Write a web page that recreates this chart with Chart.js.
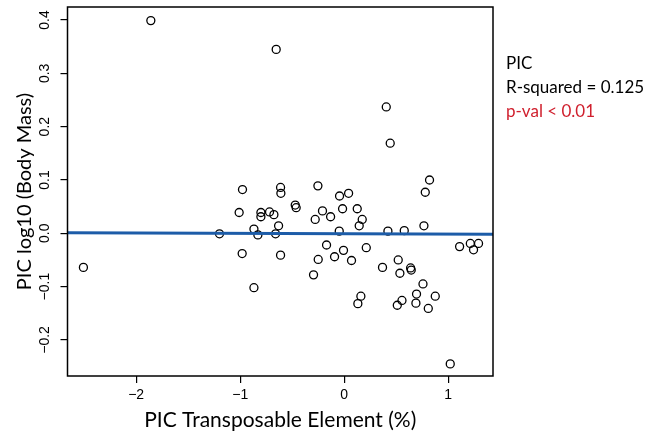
<!DOCTYPE html>
<html>
<head>
<meta charset="utf-8">
<script src="https://cdn.jsdelivr.net/npm/chart.js@4/dist/chart.umd.min.js"></script>
<style>
  html, body { margin: 0; padding: 0; background: #fff; }
  canvas { display: block; }
</style>
</head>
<body>
<canvas id="pic-chart" width="660" height="433"></canvas>
<script>
// PIC values
var picTE = [-1.859, -0.654, 0.404, 0.442, 0.820, -0.978, -0.612, -0.609, -0.253, -0.045,
  0.042, 0.779, -1.010, -0.801, -0.801, -0.718, -0.676, -0.471, -0.462, -0.209,
  -0.279, -0.131, -0.016, 0.125, 0.173, 0.144, -0.631, -0.868, -0.830, -0.660,
  -1.199, -0.048, 0.420, 0.577, 0.766, -0.981, -0.612, -0.170, -0.007, 0.212,
  -0.250, -0.093, 0.070, -0.295, -0.868, 0.368, 0.519, 0.535, 0.638, 0.644,
  0.757, 0.695, 0.875, 0.160, 0.131, 0.555, 0.510, 0.689, 0.808, 1.109,
  1.212, 1.291, 1.243, 1.019, -2.507];
var picMass = [0.399, 0.345, 0.237, 0.169, 0.100, 0.082, 0.086, 0.075, 0.089, 0.070,
  0.075, 0.077, 0.039, 0.039, 0.031, 0.040, 0.035, 0.053, 0.048, 0.042,
  0.026, 0.031, 0.046, 0.046, 0.026, 0.014, 0.014, 0.008, -0.003, -0.001,
  -0.001, 0.004, 0.004, 0.005, 0.014, -0.038, -0.041, -0.022, -0.032, -0.027,
  -0.049, -0.044, -0.051, -0.078, -0.102, -0.064, -0.050, -0.075, -0.065, -0.069,
  -0.095, -0.114, -0.118, -0.118, -0.132, -0.126, -0.135, -0.131, -0.141, -0.025,
  -0.019, -0.019, -0.031, -0.245, -0.064];

// fitted line, ends at the axis limits
var fitX = [-2.66, 1.43];
var fitY = [0.0012, -0.0018];

var xTicks = [-2, -1, 0, 1];
var yTicks = [-0.2, -0.1, 0.0, 0.1, 0.2, 0.3, 0.4];

var statLines = ['PIC', 'R-squared = 0.125', 'p-val < 0.01'];

function minus(s){
  return s.replace('-', '\u2212');
}

function toPoints(xs, ys){
  return xs.map(function(x, i){ return {x: x, y: ys[i]}; });
}

var boxAndLabels = {
  id: 'boxAndLabels',
  afterDraw: function(chart){
    var ctx = chart.ctx;
    var a = chart.chartArea;
    var ys = chart.scales.y;

    ctx.save();
    ctx.strokeStyle = '#000';
    ctx.lineWidth = 1.5;
    ctx.strokeRect(a.left, a.top, a.right - a.left, a.bottom - a.top);

    // rotated y tick labels, like R's default
    ctx.fillStyle = '#000';
    ctx.font = '14px "Liberation Sans", Arial, sans-serif';
    ctx.textAlign = 'center';
    ctx.textBaseline = 'middle';
    ys.ticks.forEach(function(t){
      ctx.save();
      ctx.translate(45.5, ys.getPixelForValue(t.value));
      ctx.rotate(-Math.PI / 2);
      ctx.fillText(minus(t.value.toFixed(1)), 0, 0);
      ctx.restore();
    });

    // stats text on the right
    ctx.textAlign = 'left';
    ctx.textBaseline = 'alphabetic';
    ctx.font = '17px Lato, sans-serif';
    statLines.forEach(function(s, i){
      ctx.fillStyle = i == 2 ? '#d0202e' : '#000';
      ctx.fillText(s, 506, 68.5 + i * 24.2);
    });
    ctx.restore();
  }
};

function init(){
  var element = document.getElementById('pic-chart').getContext('2d');

  var chart = new Chart(element, {
    type: 'scatter',
    data: {
      datasets: [{
        type: 'line',
        data: toPoints(fitX, fitY),
        borderColor: '#1c5ca8',
        borderWidth: 3,
        pointRadius: 0,
        order: 0
      }, {
        data: toPoints(picTE, picMass),
        pointRadius: 4,
        pointBorderWidth: 1.3,
        pointBorderColor: '#000',
        pointBackgroundColor: 'rgba(0,0,0,0)',
        order: 1
      }]
    },
    plugins: [boxAndLabels],
    options: {
      responsive: false,
      animation: false,
      layout: { padding: { top: 7, right: 167, left: 0, bottom: 0 } },
      plugins: { legend: { display: false }, tooltip: { enabled: false } },
      scales: {
        x: {
          type: 'linear',
          min: -2.66,
          max: 1.43,
          afterBuildTicks: function(s){ s.ticks = xTicks.map(function(v){ return {value: v}; }); },
          afterFit: function(s){ s.height = 57; },
          border: { display: false },
          grid: { drawOnChartArea: false, drawTicks: true, tickLength: 7, color: '#000', lineWidth: 1.2 },
          ticks: {
            color: '#000',
            padding: 4,
            font: { family: '"Liberation Sans", Arial, sans-serif', size: 14 },
            callback: function(v){ return minus(String(v)); }
          },
          title: {
            display: true,
            text: 'PIC Transposable Element (%)',
            color: '#000',
            font: { family: 'Lato, sans-serif', size: 21 },
            padding: { top: 0, bottom: 0.5 }
          }
        },
        y: {
          type: 'linear',
          min: -0.2677,
          max: 0.4245,
          afterBuildTicks: function(s){ s.ticks = yTicks.map(function(v){ return {value: v}; }); },
          afterFit: function(s){ s.width = 67.5; },
          border: { display: false },
          grid: { drawOnChartArea: false, drawTicks: true, tickLength: 7, color: '#000', lineWidth: 1.2 },
          ticks: { display: false },
          title: {
            display: true,
            text: 'PIC log10 (Body Mass)',
            color: '#000',
            font: { family: 'Lato, sans-serif', size: 20 },
            padding: { top: 13, bottom: 0 }
          }
        }
      }
    }
  });
}

init();
</script>
</body>
</html>
